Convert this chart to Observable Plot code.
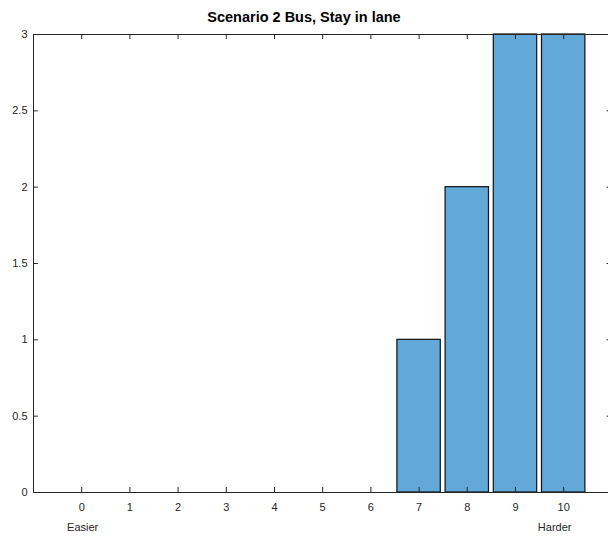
<!DOCTYPE html>
<html>
<head>
<meta charset="utf-8">
<script src="https://cdn.jsdelivr.net/npm/d3@7"></script>
<script src="https://cdn.jsdelivr.net/npm/@observablehq/plot@0.6"></script>
<style>
  body { margin: 0; background: #fff; font-family: "Liberation Sans", Arial, Helvetica, sans-serif; }
  #title { width: 608px; height: 24px; padding-top: 5px; line-height: 24px; text-align: center;
           font-weight: bold; font-size: 14.5px; color: #000; }
</style>
</head>
<body>
<div id="title">Scenario 2 Bus, Stay in lane</div>
<div id="chart"></div>
<script>
const categories = [0, 1, 2, 3, 4, 5, 6, 7, 8, 9, 10];
const counts     = [0, 0, 0, 0, 0, 0, 0, 1, 2, 3, 3];
const xTicks = [0, 1, 2, 3, 4, 5, 6, 7, 8, 9, 10];
const yTicks = [0, 0.5, 1, 1.5, 2, 2.5, 3];
const yTickLabels = ["0", "0.5", "1", "1.5", "2", "2.5", "3"];
const endLabels = ["Easier", "Harder"];
const endLabelPos = [0, 10];

const barHalf = 0.45;
const tickLenX = 0.1;   // x units
const tickLenY = 0.033; // y units
const axisColor = "#262626";

const bars = categories.map((c, i) => ({x1: c - barHalf, x2: c + barHalf, y: counts[i]}));

const plot = Plot.plot({
  width: 608,
  height: 512,
  marginTop: 5,
  marginBottom: 49,
  marginLeft: 33,
  marginRight: 0,
  style: {fontFamily: '"Liberation Sans", Arial, Helvetica, sans-serif', fontSize: "11px", color: axisColor, overflow: "visible"},
  x: {type: "linear", domain: [-1, 10.93], axis: null},
  y: {domain: [0, 3], axis: null},
  marks: [
    Plot.rectY(bars, {x1: "x1", x2: "x2", y: "y", fill: "#62a8d8", stroke: "#111", strokeWidth: 1.2}),
    // box lines
    Plot.ruleX([-1], {stroke: axisColor, strokeWidth: 1}),
    Plot.ruleY([0, 3], {stroke: axisColor, strokeWidth: 1}),
    // inward ticks bottom and top
    Plot.ruleX(xTicks, {x: d => d, y1: 0, y2: tickLenY, stroke: axisColor}),
    Plot.ruleX(xTicks, {x: d => d, y1: 3 - tickLenY, y2: 3, stroke: axisColor}),
    // inward ticks left and right
    Plot.ruleY(yTicks, {y: d => d, x1: -1, x2: -1 + tickLenX, stroke: axisColor}),
    Plot.ruleY(yTicks, {y: d => d, x1: 11 - tickLenX, x2: 11, stroke: axisColor}),
    // tick labels
    Plot.axisX(xTicks, {anchor: "bottom", tickSize: 0, tickPadding: 11, fontSize: 11, fill: axisColor, label: null}),
    Plot.axisY(yTicks, {anchor: "left", tickSize: 0, tickPadding: 6, fontSize: 11, fill: axisColor, label: null,
                        tickFormat: d => yTickLabels[yTicks.indexOf(d)]}),
    Plot.text([endLabels[0]], {x: () => endLabelPos[0], y: () => 0, text: d => d, dy: 35, dx: 1, fontSize: 11, fill: axisColor}),
    Plot.text([endLabels[1]], {x: () => endLabelPos[1], y: () => 0, text: d => d, dy: 35, dx: -9, fontSize: 11, fill: axisColor})
  ]
});
document.getElementById("chart").appendChild(plot);
</script>
</body>
</html>
